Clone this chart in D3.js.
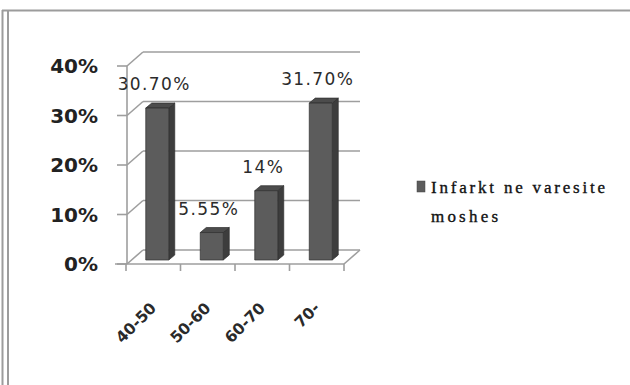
<!DOCTYPE html>
<html>
<head>
<meta charset="utf-8">
<script src="https://cdn.jsdelivr.net/npm/d3@7"></script>
<style>
  html, body { margin: 0; padding: 0; background: #fff; }
  svg { display: block; }
</style>
</head>
<body>
<svg id="chart" width="630" height="385"></svg>
<script>
// Age groups and the share of infarct cases in each (percent)
const categories = ["40-50", "50-60", "60-70", "70-"];
const values = [30.7, 5.55, 14, 31.7];
const valueLabels = ["30.70%", "5.55%", "14%", "31.70%"];
const yTicks = [0, 10, 20, 30, 40];
const legendLines = ["Infarkt ne varesite", "moshes"];

const svg = d3.select("#chart");
svg.append("rect").attr("width", 630).attr("height", 385).attr("fill", "#fff");

// Outer frame: double rule on the left, single rule on top
const frame = svg.append("g").attr("stroke", "#9c9c9c").attr("stroke-width", 2).attr("fill", "none");
frame.append("line").attr("x1", 2.5).attr("y1", 10).attr("x2", 2.5).attr("y2", 385);
frame.append("line").attr("x1", 8).attr("y1", 11).attr("x2", 8).attr("y2", 385);
frame.append("line").attr("x1", 2).attr("y1", 10.5).attr("x2", 630).attr("y2", 10.5);

// Scales for the front plane of the 3D box
const y = d3.scaleLinear().domain([0, 40]).range([264, 66]);
const x = d3.scaleBand().domain(categories).range([126, 344]).padding(0);

// Depth of the box (back wall offset) and bar placement inside it
const DX = 16, DY = -14;
const barOff = { dx: 4, dy: -4 };
const barDepth = { dx: 6, dy: -5 };
const barW = 23;

const grid = svg.append("g").attr("stroke", "#9e9e9e").attr("stroke-width", 1.6).attr("fill", "none");
const xL = x.range()[0] + 1, xR = x.range()[1];

// Back-wall gridlines and left-wall diagonals
yTicks.forEach(t => {
  grid.append("line")
    .attr("x1", xL + DX).attr("y1", y(t) + DY)
    .attr("x2", xR + DX).attr("y2", y(t) + DY);
  grid.append("line")
    .attr("x1", xL).attr("y1", y(t))
    .attr("x2", xL + DX).attr("y2", y(t) + DY);
});

// Floor: front edge and right edge
grid.append("line").attr("x1", xL - 12).attr("y1", y(0)).attr("x2", xR).attr("y2", y(0));
grid.append("line").attr("x1", xR).attr("y1", y(0)).attr("x2", xR + DX).attr("y2", y(0) + DY);

// Vertical value axis with tick marks
grid.append("line").attr("x1", xL).attr("y1", y(0)).attr("x2", xL).attr("y2", y(40));
yTicks.forEach(t => {
  grid.append("line").attr("x1", xL - 10).attr("y1", y(t)).attr("x2", xL).attr("y2", y(t));
});

// Category tick marks under the floor
const catEdges = categories.map(c => x(c)).concat([xR]);
catEdges.forEach(cx => {
  grid.append("line").attr("x1", cx).attr("y1", y(0)).attr("x2", cx).attr("y2", y(0) + 7);
});

// Value axis labels
svg.append("g").selectAll("text").data(yTicks).join("text")
  .attr("x", 98).attr("y", d => y(d)).attr("dy", "0.36em")
  .attr("text-anchor", "end")
  .attr("font-family", "DejaVu Sans, Verdana, sans-serif")
  .attr("font-weight", "bold").attr("font-size", 20)
  .attr("fill", "#222")
  .text(d => d + "%");

// Category labels, rotated
svg.append("g").selectAll("text").data(categories).join("text")
  .attr("transform", d => `translate(${x(d) + x.bandwidth() / 2 + 4},${y(0) + 45}) rotate(-45)`)
  .attr("text-anchor", "end")
  .attr("font-family", "DejaVu Sans, Verdana, sans-serif")
  .attr("font-weight", "bold").attr("font-size", 15.5)
  .attr("fill", "#2a2a2a")
  .text(d => d);

// 3D bars: front, side and top faces
const bars = svg.append("g");
categories.forEach((c, i) => {
  const v = values[i];
  const cx = x(c) + x.bandwidth() / 2 + barOff.dx;
  const x0 = cx - barW / 2, x1 = cx + barW / 2;
  const yb = y(0) + barOff.dy, yt = y(v) + barOff.dy;
  const g = bars.append("g").attr("stroke", "#2e2e2e").attr("stroke-width", 0.7).attr("stroke-linejoin", "round");
  g.append("polygon").attr("fill", "#3d3d3d")
    .attr("points", [[x1, yb], [x1 + barDepth.dx, yb + barDepth.dy], [x1 + barDepth.dx, yt + barDepth.dy], [x1, yt]].join(" "));
  g.append("polygon").attr("fill", "#4c4c4c")
    .attr("points", [[x0, yt], [x1, yt], [x1 + barDepth.dx, yt + barDepth.dy], [x0 + barDepth.dx, yt + barDepth.dy]].join(" "));
  g.append("polygon").attr("fill", "#5c5c5c")
    .attr("points", [[x0, yb], [x1, yb], [x1, yt], [x0, yt]].join(" "));
  // value label above the bar
  svg.append("text")
    .attr("x", cx - 3).attr("y", yt - 18)
    .attr("text-anchor", "middle")
    .attr("font-family", "DejaVu Sans, Verdana, sans-serif")
    .attr("font-size", 17).attr("letter-spacing", 1.4)
    .attr("fill", "#2b2b2b")
    .text(valueLabels[i]);
});

// Legend
const legend = svg.append("g");
legend.append("rect").attr("x", 417).attr("y", 181).attr("width", 8).attr("height", 11)
  .attr("fill", "#5c5c5c").attr("stroke", "#444").attr("stroke-width", 0.5);
legend.selectAll("text").data(legendLines).join("text")
  .attr("x", 431).attr("y", (d, i) => 193 + i * 29)
  .attr("font-family", "Liberation Serif, Times New Roman, serif")
  .attr("font-size", 17).attr("letter-spacing", (d, i) => i === 0 ? 2.8 : 3.2)
  .attr("fill", "#111").attr("stroke", "#111").attr("stroke-width", 0.35)
  .text(d => d);
</script>
</body>
</html>
